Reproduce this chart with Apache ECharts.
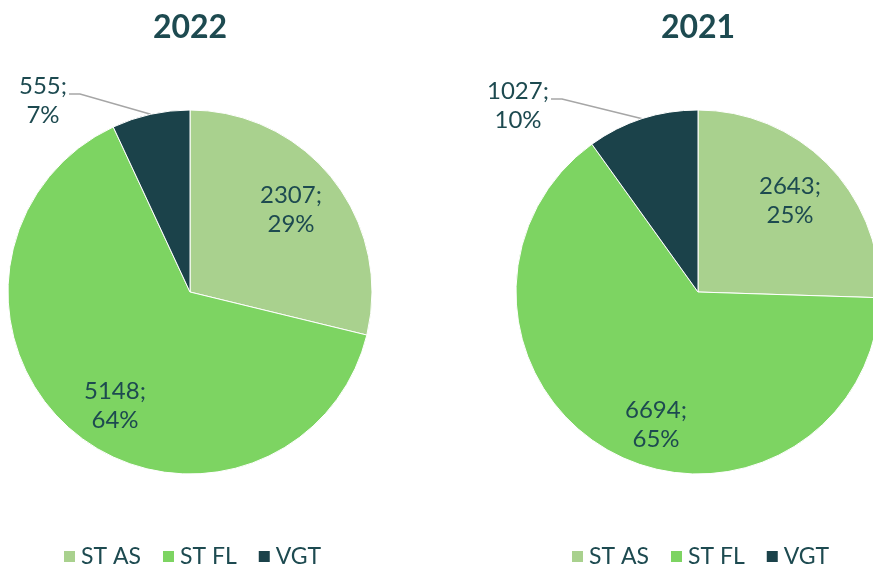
<!DOCTYPE html>
<html>
<head>
<meta charset="utf-8">
<script src="https://cdn.jsdelivr.net/npm/echarts@6/dist/echarts.min.js"></script>
<style>
  html, body { margin: 0; padding: 0; background: #ffffff; }
  #chart { width: 873px; height: 566px; }
</style>
</head>
<body>
<div id="chart"></div>
<script>
// Categories and yearly totals
const categories = ['ST AS', 'ST FL', 'VGT'];
const years = ['2022', '2021'];
const values2022 = [2307, 5148, 555];
const values2021 = [2643, 6694, 1027];

const sliceColors = ['#a9d18e', '#7dd462', '#1b424a'];
const textColor = '#1d4a50';
const fontFamily = 'Lato, "Noto Sans", sans-serif';

// Pie geometry (center x per year) and label placement
const pieCenters = [[190, 292], [698, 292]];
const pieRadius = 182;
const insideLabelPos = [
  [[291, 210], [115, 406]],
  [[790, 201], [656, 425]]
];
const outsideLabelPos = [[43, 101], [518, 106]];

function buildData(values) {
  return values.map((v, i) => ({
    name: categories[i],
    value: v,
    label: i < 2 ? { position: 'inside' } : { position: 'outside' },
    labelLine: { show: i === 2 }
  }));
}

function makeLabelLayout(seriesIdx) {
  return function (params) {
    const di = params.dataIndex;
    if (di < 2) {
      const p = insideLabelPos[seriesIdx][di];
      return { x: p[0], y: p[1], align: 'center', verticalAlign: 'middle' };
    }
    const p = outsideLabelPos[seriesIdx];
    const half = params.labelRect.width / 2;
    const anchor = params.labelLinePoints ? params.labelLinePoints[0] : null;
    const res = { x: p[0], y: p[1], align: 'center', verticalAlign: 'middle' };
    if (anchor) {
      res.labelLinePoints = [
        anchor,
        [p[0] + half + 13, p[1] - 7],
        [p[0] + half + 2, p[1] - 7]
      ];
    }
    return res;
  };
}

const seriesValues = [values2022, values2021];

const chart = echarts.init(document.getElementById('chart'), null, { renderer: 'canvas' });

chart.setOption({
  backgroundColor: '#ffffff',
  animation: false,
  color: sliceColors,
  title: years.map((y, i) => ({
    text: y,
    left: pieCenters[i][0],
    top: 12,
    padding: 0,
    textAlign: 'center',
    textStyle: { color: textColor, fontFamily: fontFamily, fontSize: 32, fontWeight: 'bold' }
  })),
  legend: [0, 1].map(i => ({
    data: categories,
    left: i === 0 ? 57 : 565,
    top: 540,
    orient: 'horizontal',
    icon: 'rect',
    itemWidth: 13,
    itemHeight: 13,
    itemGap: 20,
    selectedMode: false,
    textStyle: { color: textColor, fontFamily: fontFamily, fontSize: 23, padding: [0, 0, 0, 0] }
  })),
  series: seriesValues.map((vals, i) => ({
    type: 'pie',
    center: pieCenters[i],
    radius: pieRadius,
    startAngle: 90,
    clockwise: true,
    avoidLabelOverlap: false,
    percentPrecision: 0,
    silent: true,
    itemStyle: { borderColor: '#ffffff', borderWidth: 1 },
    label: {
      formatter: '{c};\n{d}%',
      color: textColor,
      fontFamily: fontFamily,
      fontSize: 24,
      lineHeight: 29,
      align: 'center'
    },
    labelLine: { show: true, length: 20, length2: 12, lineStyle: { color: '#a6a6a6', width: 1.5 } },
    labelLayout: makeLabelLayout(i),
    emphasis: { disabled: true },
    data: buildData(vals)
  }))
});
</script>
</body>
</html>
